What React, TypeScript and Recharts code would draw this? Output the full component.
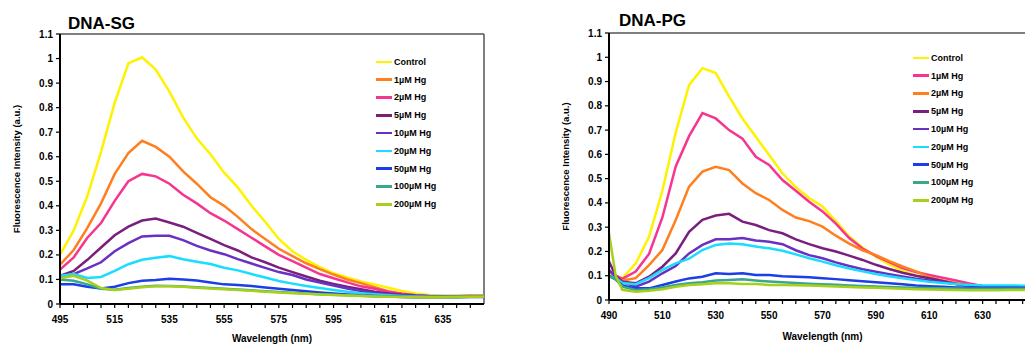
import { LineChart, Line, XAxis, YAxis, Legend, ReferenceLine } from "recharts";

const seriesNames = ["Control", "1µM Hg", "2µM Hg", "5µM Hg", "10µM Hg", "20µM Hg", "50µM Hg", "100µM Hg", "200µM Hg"];

// DNA-SG (left panel)
const sgWavelengths = [495, 500, 505, 510, 515, 520, 525, 530, 535, 540, 545, 550, 555, 560, 565, 570, 575, 580, 585, 590, 595, 600, 605, 610, 615, 620, 625, 630, 635, 640, 645, 650];
const sgControl = [0.2, 0.3, 0.44, 0.62, 0.82, 0.98, 1.005, 0.955, 0.865, 0.76, 0.675, 0.61, 0.535, 0.475, 0.4, 0.335, 0.265, 0.215, 0.18, 0.15, 0.125, 0.108, 0.092, 0.08, 0.066, 0.053, 0.043, 0.037, 0.034, 0.034, 0.035, 0.034];
const sg1uM = [0.16, 0.22, 0.31, 0.41, 0.53, 0.615, 0.665, 0.64, 0.6, 0.54, 0.49, 0.435, 0.4, 0.355, 0.305, 0.265, 0.225, 0.195, 0.166, 0.142, 0.12, 0.1, 0.085, 0.068, 0.052, 0.042, 0.036, 0.033, 0.033, 0.033, 0.034, 0.034];
const sg2uM = [0.14, 0.19, 0.27, 0.33, 0.42, 0.5, 0.53, 0.52, 0.49, 0.445, 0.41, 0.37, 0.34, 0.305, 0.27, 0.235, 0.2, 0.175, 0.148, 0.122, 0.105, 0.088, 0.072, 0.062, 0.05, 0.042, 0.036, 0.033, 0.032, 0.032, 0.033, 0.033];
const sg5uM = [0.115, 0.135, 0.18, 0.23, 0.28, 0.315, 0.34, 0.348, 0.332, 0.315, 0.29, 0.265, 0.24, 0.218, 0.19, 0.17, 0.148, 0.13, 0.112, 0.095, 0.082, 0.07, 0.06, 0.05, 0.043, 0.038, 0.034, 0.032, 0.031, 0.031, 0.032, 0.032];
const sg10uM = [0.105, 0.122, 0.145, 0.17, 0.215, 0.248, 0.275, 0.278, 0.278, 0.26, 0.237, 0.218, 0.203, 0.183, 0.165, 0.147, 0.13, 0.118, 0.1, 0.087, 0.075, 0.063, 0.053, 0.045, 0.04, 0.036, 0.033, 0.031, 0.031, 0.031, 0.032, 0.032];
const sg20uM = [0.115, 0.122, 0.106, 0.11, 0.135, 0.162, 0.18, 0.188, 0.195, 0.182, 0.172, 0.163, 0.148, 0.137, 0.122, 0.108, 0.094, 0.083, 0.073, 0.065, 0.057, 0.05, 0.044, 0.04, 0.036, 0.033, 0.031, 0.03, 0.03, 0.03, 0.031, 0.031];
const sg50uM = [0.08, 0.08, 0.07, 0.063, 0.07, 0.085, 0.095, 0.098, 0.103, 0.1, 0.096, 0.088, 0.08, 0.077, 0.073, 0.067, 0.062, 0.057, 0.052, 0.047, 0.043, 0.039, 0.035, 0.033, 0.031, 0.029, 0.028, 0.028, 0.028, 0.028, 0.029, 0.029];
const sg100uM = [0.1, 0.095, 0.08, 0.062, 0.058, 0.065, 0.07, 0.074, 0.073, 0.071, 0.068, 0.065, 0.062, 0.059, 0.056, 0.052, 0.049, 0.046, 0.043, 0.04, 0.038, 0.036, 0.034, 0.032, 0.031, 0.03, 0.029, 0.029, 0.029, 0.029, 0.03, 0.03];
const sg200uM = [0.105, 0.115, 0.095, 0.065, 0.057, 0.062, 0.068, 0.072, 0.072, 0.07, 0.066, 0.063, 0.06, 0.057, 0.054, 0.05, 0.047, 0.044, 0.042, 0.039, 0.037, 0.035, 0.033, 0.031, 0.03, 0.029, 0.028, 0.028, 0.028, 0.029, 0.03, 0.03];

// DNA-PG (right panel)
const pgWavelengths = [490, 492.5, 495, 500, 505, 510, 515, 520, 525, 530, 535, 540, 545, 550, 555, 560, 565, 570, 575, 580, 585, 590, 595, 600, 605, 610, 615, 620, 625, 630, 635, 640, 645, 650];
const pgControl = [0.11, 0.1, 0.09, 0.15, 0.26, 0.45, 0.69, 0.885, 0.955, 0.935, 0.838, 0.748, 0.673, 0.597, 0.522, 0.465, 0.42, 0.385, 0.325, 0.262, 0.216, 0.178, 0.147, 0.12, 0.101, 0.089, 0.078, 0.068, 0.058, 0.053, 0.052, 0.052, 0.052, 0.052];
const pg1uM = [0.12, 0.1, 0.087, 0.117, 0.19, 0.34, 0.55, 0.675, 0.77, 0.748, 0.7, 0.665, 0.59, 0.556, 0.494, 0.45, 0.405, 0.365, 0.315, 0.255, 0.212, 0.182, 0.156, 0.132, 0.115, 0.103, 0.092, 0.08, 0.068, 0.058, 0.056, 0.056, 0.055, 0.055];
const pg2uM = [0.1, 0.095, 0.08, 0.09, 0.144, 0.206, 0.33, 0.467, 0.529, 0.549, 0.535, 0.48, 0.44, 0.412, 0.371, 0.34, 0.325, 0.302, 0.265, 0.232, 0.205, 0.185, 0.16, 0.138, 0.118, 0.095, 0.08, 0.07, 0.062, 0.058, 0.057, 0.057, 0.056, 0.056];
const pg5uM = [0.158, 0.1, 0.075, 0.069, 0.096, 0.137, 0.192, 0.281, 0.33, 0.348, 0.355, 0.323, 0.309, 0.288, 0.275, 0.25, 0.23, 0.213, 0.2, 0.183, 0.165, 0.145, 0.128, 0.112, 0.1, 0.09, 0.078, 0.066, 0.06, 0.056, 0.055, 0.055, 0.054, 0.054];
const pg10uM = [0.124, 0.095, 0.075, 0.055, 0.076, 0.11, 0.14, 0.192, 0.227, 0.25, 0.25, 0.255, 0.245, 0.24, 0.23, 0.205, 0.185, 0.172, 0.155, 0.14, 0.127, 0.116, 0.106, 0.097, 0.088, 0.08, 0.073, 0.066, 0.06, 0.057, 0.056, 0.056, 0.055, 0.055];
const pg20uM = [0.1, 0.09, 0.07, 0.065, 0.09, 0.124, 0.151, 0.17, 0.206, 0.227, 0.233, 0.23, 0.22, 0.213, 0.203, 0.188, 0.172, 0.158, 0.143, 0.13, 0.118, 0.107, 0.098, 0.09, 0.082, 0.075, 0.07, 0.066, 0.062, 0.06, 0.06, 0.06, 0.059, 0.059];
const pg50uM = [0.1, 0.085, 0.06, 0.048, 0.048, 0.062, 0.076, 0.089, 0.096, 0.11, 0.107, 0.11, 0.103, 0.103, 0.098, 0.096, 0.094, 0.09, 0.086, 0.081, 0.077, 0.073, 0.069, 0.065, 0.06, 0.057, 0.055, 0.052, 0.051, 0.05, 0.05, 0.05, 0.05, 0.05];
const pg100uM = [0.1, 0.085, 0.055, 0.041, 0.044, 0.052, 0.062, 0.069, 0.073, 0.08, 0.082, 0.085, 0.08, 0.076, 0.073, 0.07, 0.067, 0.065, 0.063, 0.06, 0.058, 0.056, 0.054, 0.052, 0.05, 0.049, 0.048, 0.047, 0.046, 0.046, 0.046, 0.046, 0.046, 0.046];
const pg200uM = [0.275, 0.1, 0.042, 0.034, 0.038, 0.044, 0.055, 0.062, 0.065, 0.069, 0.069, 0.066, 0.066, 0.062, 0.062, 0.061, 0.06, 0.058, 0.056, 0.054, 0.052, 0.05, 0.048, 0.046, 0.044, 0.043, 0.042, 0.041, 0.04, 0.04, 0.04, 0.041, 0.041, 0.041];

const yTicks = [0, 0.1, 0.2, 0.3, 0.4, 0.5, 0.6, 0.7, 0.8, 0.9, 1, 1.1];
const sgXTicks = [495, 500, 505, 510, 515, 520, 525, 530, 535, 540, 545, 550, 555, 560, 565, 570, 575, 580, 585, 590, 595, 600, 605, 610, 615, 620, 625, 630, 635, 640, 645];
const sgXLabels = [495, 515, 535, 555, 575, 595, 615, 635];
const pgXTicks = [490, 495, 500, 505, 510, 515, 520, 525, 530, 535, 540, 545, 550, 555, 560, 565, 570, 575, 580, 585, 590, 595, 600, 605, 610, 615, 620, 625, 630, 635, 640, 645];
const pgXLabels = [490, 510, 530, 550, 570, 590, 610, 630];

const YELLOW = "#fff200";
const ORANGE = "#ff7f1e";
const PINK = "#f5358f";
const sgColors = [YELLOW, ORANGE, PINK, "#7b1f7e", "#6a30c2", "#1adcff", "#1b3ee6", "#3aa68a", "#a8cf1c"];
const pgColors = [YELLOW, PINK, ORANGE, "#7b1f7e", "#6a30c2", "#1adcff", "#1b3ee6", "#3aa68a", "#a8cf1c"];

const FONT = '"Liberation Sans", Arial, sans-serif';

const buildRows = (wl: number[], series: number[][]) =>
  wl.map((w, i) => {
    const row: Record<string, number> = { wl: w };
    series.forEach((s, k) => {
      row[`s${k}`] = s[i];
    });
    return row;
  });

const sgData = buildRows(sgWavelengths, [sgControl, sg1uM, sg2uM, sg5uM, sg10uM, sg20uM, sg50uM, sg100uM, sg200uM]);
const pgData = buildRows(pgWavelengths, [pgControl, pg1uM, pg2uM, pg5uM, pg10uM, pg20uM, pg50uM, pg100uM, pg200uM]);

const LegendBox = (props: any) => {
  const items = [...(props.payload || [])].sort(
    (a: any, b: any) => seriesNames.indexOf(a.value) - seriesNames.indexOf(b.value)
  );
  return (
    <div style={{ fontFamily: FONT, fontSize: 9, fontWeight: "bold", color: "#000" }}>
      {items.map((e: any) => (
        <div key={e.value} style={{ display: "flex", alignItems: "center", height: 17.8 }}>
          <span style={{ display: "inline-block", width: 16, height: 2.5, background: e.color, marginRight: 2 }} />
          <span style={{ whiteSpace: "nowrap" }}>{e.value}</span>
        </div>
      ))}
    </div>
  );
};

interface PanelProps {
  left: number;
  width: number;
  marginTop: number;
  marginRight: number;
  marginBottom: number;
  data: Record<string, number>[];
  colors: string[];
  domain: [number, number];
  xTicks: number[];
  xLabels: number[];
  legendLeft: number;
  legendTop: number;
  labelOffset: number;
}

const Panel = (p: PanelProps) => {
  const renderTick = (t: any) => {
    if (!p.xLabels.includes(t.payload.value)) return <g />;
    return (
      <text x={t.x} y={t.y} dy="0.71em" textAnchor="middle" fontSize={10} fontWeight="bold" fontFamily={FONT} fill="#000">
        {t.payload.value}
      </text>
    );
  };
  return (
    <div style={{ position: "absolute", left: p.left, top: 0 }}>
      <LineChart
        width={p.width}
        height={344}
        data={p.data}
        margin={{ top: p.marginTop, right: p.marginRight, bottom: p.marginBottom, left: 0 }}
      >
        <XAxis
          dataKey="wl"
          type="number"
          domain={p.domain}
          allowDataOverflow
          ticks={p.xTicks}
          interval={0}
          tick={renderTick}
          tickSize={4}
          tickMargin={8}
          height={30}
          axisLine={{ stroke: "#000", strokeWidth: 2 }}
          tickLine={{ stroke: "#000", strokeWidth: 1.2 }}
          label={{
            value: "Wavelength (nm)",
            position: "bottom",
            offset: p.labelOffset,
            style: { fontSize: 10, fontWeight: "bold", fill: "#000", fontFamily: FONT },
          }}
        />
        <YAxis
          type="number"
          domain={[0, 1.1]}
          ticks={yTicks}
          interval={0}
          width={60}
          tickSize={4}
          tickMargin={3}
          tickFormatter={(v: number) => String(v)}
          tick={{ fontSize: 10, fontWeight: "bold", fill: "#000", fontFamily: FONT }}
          axisLine={{ stroke: "#000", strokeWidth: 2 }}
          tickLine={{ stroke: "#000", strokeWidth: 1.2 }}
          label={{
            value: "Fluorescence Intensity (a.u.)",
            angle: -90,
            position: "insideLeft",
            offset: 17,
            style: { fontSize: 9.5, fontWeight: "bold", fill: "#000", fontFamily: FONT, textAnchor: "middle" },
          }}
        />
        <ReferenceLine y={1.1} stroke="#555" strokeWidth={1.5} />
        <ReferenceLine x={p.domain[1]} stroke="#555" strokeWidth={1.5} />
        {seriesNames.map((name, k) => (
          <Line
            key={name}
            type="linear"
            dataKey={`s${k}`}
            name={name}
            stroke={p.colors[k]}
            strokeWidth={2.5}
            dot={false}
            isAnimationActive={false}
          />
        ))}
        <Legend
          layout="vertical"
          align="center"
          verticalAlign="middle"
          content={LegendBox}
          wrapperStyle={{ left: p.legendLeft, top: p.legendTop, width: 110 }}
        />
      </LineChart>
    </div>
  );
};

const titleStyle = {
  position: "absolute" as const,
  fontFamily: FONT,
  fontSize: 17,
  fontWeight: "bold" as const,
  lineHeight: "17px",
  color: "#000",
  whiteSpace: "nowrap" as const,
};

export default function App() {
  return (
    <div
      style={{
        position: "absolute",
        left: 0,
        top: 0,
        width: 1025,
        height: 344,
        overflow: "hidden",
        background: "#fff",
        fontFamily: FONT,
      }}
    >
      <Panel
        left={0}
        width={500}
        marginTop={34}
        marginRight={16}
        marginBottom={10}
        data={sgData}
        colors={sgColors}
        domain={[495, 650]}
        xTicks={sgXTicks}
        xLabels={sgXLabels}
        legendLeft={376}
        legendTop={53}
        labelOffset={1}
      />
      <Panel
        left={549}
        width={492}
        marginTop={33}
        marginRight={5}
        marginBottom={14}
        data={pgData}
        colors={pgColors}
        domain={[490, 650]}
        xTicks={pgXTicks}
        xLabels={pgXLabels}
        legendLeft={364}
        legendTop={49}
        labelOffset={3}
      />
      <div style={{ ...titleStyle, left: 68, top: 15 }}>DNA-SG</div>
      <div style={{ ...titleStyle, left: 619, top: 12 }}>DNA-PG</div>
    </div>
  );
}
